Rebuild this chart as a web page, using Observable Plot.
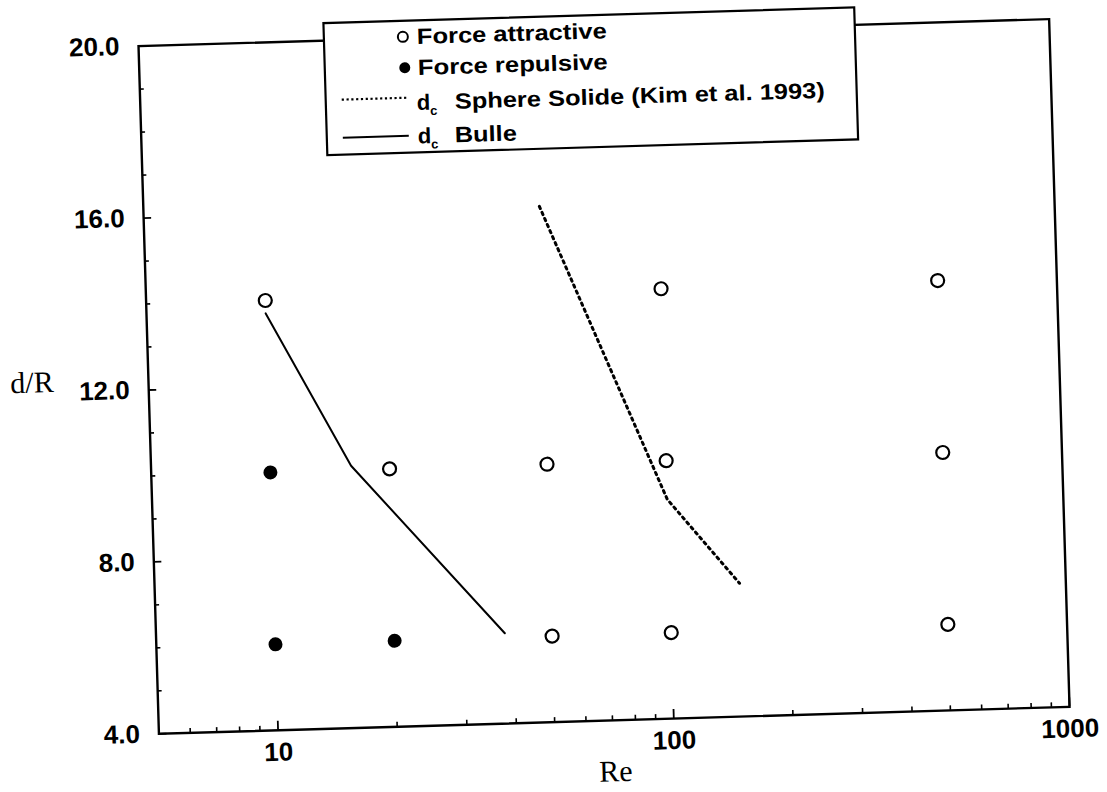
<!DOCTYPE html>
<html>
<head>
<meta charset="utf-8">
<script src="https://cdn.jsdelivr.net/npm/d3@7"></script>
<script src="https://cdn.jsdelivr.net/npm/@observablehq/plot@0.6"></script>
<style>
  html, body { margin: 0; padding: 0; background: #fff; }
  #wrap { position: relative; width: 1107px; height: 792px; transform: rotate(-1.7deg); transform-origin: 603.75px 375.5px; }
  #wrap > svg { position: absolute; left: 0; top: 0; }
</style>
</head>
<body>
<div id="wrap"></div>
<script>
// ---- data ----
const reAttractive = [10, 20, 50, 50, 100, 100, 100, 500, 500, 500];
const dAttractive  = [14.0, 10.0, 10.0, 6.0, 14.0, 10.0, 6.0, 14.0, 10.0, 6.0];
const reRepulsive  = [10, 10, 20];
const dRepulsive   = [10.0, 6.0, 6.0];
const reBulle      = [10, 16, 38];
const dBulle       = [13.7, 10.1, 6.1];
const reKim        = [50, 100, 150];
const dKim         = [16.0, 9.1, 7.1];
const xMajorTicks  = [10, 100, 1000];
const xMinorTicks  = [6, 7, 8, 9, 20, 30, 40, 50, 60, 70, 80, 90, 200, 300, 400, 500, 600, 700, 800, 900];
const yMajorTicks  = [4, 8, 12, 16, 20];
const yMinorTicks  = [5, 6, 7, 9, 10, 11, 13, 14, 15, 17, 18, 19];
const legendLabels = ["Force attractive", "Force repulsive", "Sphere Solide (Kim et al. 1993)", "Bulle"];
const xLabel = "Re";
const yLabel = "d/R";

const attractive = reAttractive.map((re, i) => ({re, d: dAttractive[i]}));
const repulsive  = reRepulsive.map((re, i) => ({re, d: dRepulsive[i]}));
const bulle      = reBulle.map((re, i) => ({re, d: dBulle[i]}));
const kim        = reKim.map((re, i) => ({re, d: dKim[i]}));

const sans = "'Liberation Sans', Arial, Helvetica, sans-serif";
const serif = "'Liberation Serif', 'Times New Roman', serif";

const W = 1107, H = 792, ML = 148, MR = 48, MT = 32, MB = 72;
const frameW = W - ML - MR, frameH = H - MT - MB;

const chart = Plot.plot({
  width: W,
  height: H,
  marginLeft: ML,
  marginRight: MR,
  marginTop: MT,
  marginBottom: MB,
  style: {fontFamily: sans, fontSize: "26px", color: "black", background: "white", overflow: "visible"},
  x: {type: "log", domain: [5, 1000]},
  y: {domain: [4, 20]},
  marks: [
    // inward tick marks
    Plot.ruleX(xMinorTicks, {x: d => d, insetTop: frameH - 4.5, stroke: "black", strokeWidth: 1.6}),
    Plot.ruleX(xMajorTicks, {x: d => d, insetTop: frameH - 9, stroke: "black", strokeWidth: 1.8}),
    Plot.ruleY(yMinorTicks, {y: d => d, insetRight: frameW - 4.5, stroke: "black", strokeWidth: 1.6}),
    Plot.ruleY(yMajorTicks, {y: d => d, insetRight: frameW - 8, stroke: "black", strokeWidth: 1.8}),
    // tick labels
    Plot.axisX(xMajorTicks, {tickSize: 0, tickPadding: 12, tickFormat: d => String(d), fontSize: 26, fontWeight: "bold", label: null}),
    Plot.axisY(yMajorTicks, {tickSize: 0, tickPadding: 19, tickFormat: d => d.toFixed(1), fontSize: 26, fontWeight: "bold", label: null}),
    Plot.frame({stroke: "black", strokeWidth: 2.4}),
    Plot.line(bulle, {x: "re", y: "d", stroke: "black", strokeWidth: 2}),
    Plot.line(kim, {x: "re", y: "d", stroke: "black", strokeWidth: 3, strokeDasharray: "2.4,4.2"}),
    Plot.dot(attractive, {x: "re", y: "d", r: 6.5, stroke: "black", strokeWidth: 2.2, fill: "white"}),
    Plot.dot(repulsive, {x: "re", y: "d", r: 7, fill: "black", stroke: "none"}),
    Plot.text([yLabel], {text: d => d, frameAnchor: "left", dx: -116.5, dy: -10.5, fontFamily: serif, fontSize: 30, textAnchor: "middle"}),
    Plot.text([xLabel], {text: d => d, frameAnchor: "bottom", dy: 61, fontFamily: serif, fontSize: 30, textAnchor: "middle"})
  ]
});

const wrap = document.getElementById("wrap");
wrap.appendChild(chart);

// ---- legend (overlay, drawn over the top frame line) ----
const ns = "http://www.w3.org/2000/svg";
const leg = document.createElementNS(ns, "svg");
leg.setAttribute("width", W);
leg.setAttribute("height", H);
leg.setAttribute("style", "position:absolute;left:0;top:0;pointer-events:none");
function el(tag, attrs, text) {
  const e = document.createElementNS(ns, tag);
  for (const k in attrs) e.setAttribute(k, attrs[k]);
  if (text != null) e.textContent = text;
  leg.appendChild(e);
  return e;
}
el("rect", {x: 334, y: 15, width: 531, height: 132, fill: "white", stroke: "black", "stroke-width": 2.2});
const tStyle = {"font-family": sans, "font-size": 22, "font-weight": "bold", fill: "black", lengthAdjust: "spacingAndGlyphs"};
const dStyle = {"font-family": sans, "font-size": 22, "font-weight": "bold", fill: "black"};
const cStyle = {"font-family": sans, "font-size": 13, "font-weight": "bold", fill: "black"};
// row 1
el("circle", {cx: 413, cy: 31, r: 5, fill: "white", stroke: "black", "stroke-width": 2});
el("text", {...tStyle, x: 427, y: 38.5, textLength: 190}, legendLabels[0]);
// row 2
el("circle", {cx: 414, cy: 62, r: 5.5, fill: "black"});
el("text", {...tStyle, x: 427, y: 69.5, textLength: 190}, legendLabels[1]);
// row 3
el("line", {x1: 350, x2: 416, y1: 92, y2: 92, stroke: "black", "stroke-width": 2.2, "stroke-dasharray": "2.2,2.6"});
el("text", {...dStyle, x: 425, y: 104.5}, "d");
el("text", {...cStyle, x: 438, y: 110}, "c");
el("text", {...tStyle, x: 463, y: 104.5, textLength: 370}, legendLabels[2]);
// row 4
el("line", {x1: 350, x2: 416, y1: 130, y2: 130, stroke: "black", "stroke-width": 2});
el("text", {...dStyle, x: 425, y: 138}, "d");
el("text", {...cStyle, x: 438, y: 143.5}, "c");
el("text", {...tStyle, x: 462, y: 138, textLength: 62}, legendLabels[3]);
wrap.appendChild(leg);
</script>
</body>
</html>
